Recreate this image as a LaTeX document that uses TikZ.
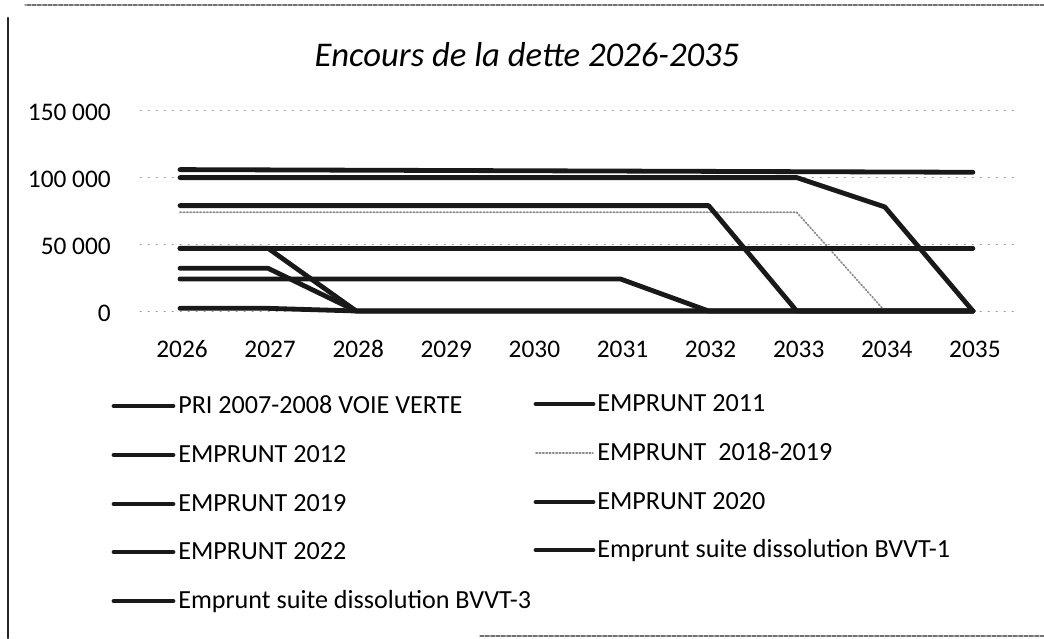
\documentclass[tikz,border=0pt]{standalone}
\usepackage{fontspec}
\setmainfont{Carlito}[Numbers=Lining]
\begin{document}
\begin{tikzpicture}[x=0.75pt, y=-0.75pt, font=\fontsize{19}{21}\selectfont, line join=round, line cap=round]
	\tikzset{
		serie/.style={line width=3.6pt, color=black!90},
		seriedot/.style={line width=1.3pt, color=black!45, dash pattern=on 1pt off 1.5pt},
		grille/.style={line width=0.6pt, color=black!40, dash pattern=on 1pt off 5pt},
		cadre/.style={line width=0.8pt, color=black!55, dash pattern=on 3pt off 1pt},
		etiq/.style={anchor=base west, inner sep=0pt, font=\fontsize{19.6}{22}\selectfont},
	}
	\useasboundingbox (0,0) rectangle (1044,638);
	\def\xo{180};\def\yo{311};\def\dx{88.1};\def\dy{66.7};
	% cadre du graphique
	\draw[cadre] (1044,5) -- (25,5);
	\draw[cadre] (480,636) -- (1044,636);
	\draw[line width=2.2pt, color=black!85] (8,18) -- (8,638);
	% titre
	\node[anchor=base, inner sep=0pt] (titre) at (527,67) {\fontsize{26}{28}\selectfont\itshape Encours de la dette 2026-2035};
	% grille et axe des valeurs
	\foreach \k/\v in {0/0, 1/50 000, 2/100 000, 3/150 000}{
		\draw[grille] (140,{\yo-\k*\dy}) -- (1015,{\yo-\k*\dy});
		\node[anchor=base east, inner sep=0pt] (val\k) at (111,{\yo+10-\k*\dy}) {\v};
	}
	% axe des annees
	\foreach \i in {0,...,9}{
		\pgfmathtruncatemacro{\an}{2026+\i}
		\node[anchor=base, inner sep=0pt] (an\i) at ({\xo+2+\i*\dx},357) {\an};
	}
	% series (valeurs en milliers)
	\begin{scope}[shift={(\xo,\yo)}, x=66.075pt, y=1.0005pt]
		\draw[serie] plot coordinates {(0,2) (1,2) (2,0) (9,0)};
		\draw[serie] plot coordinates {(0,32) (1,32) (2,0) (9,0)};
		\draw[serie] plot coordinates {(0,47) (1,47) (2,0) (9,0)};
		\draw[seriedot] plot coordinates {(0,74) (7,74) (8,0) (9,0)};
		\draw[serie] plot coordinates {(0,24) (5,24) (6,0) (9,0)};
		\draw[serie] plot coordinates {(0,79) (6,79) (7,0) (9,0)};
		\draw[serie] plot coordinates {(0,100) (7,100) (8,78) (9,0)};
		\draw[serie] plot coordinates {(0,106) (9,104)};
		\draw[serie] plot coordinates {(0,47) (9,47)};
	\end{scope}
	% legende
	\foreach \y/\t [count=\n] in {406/PRI 2007-2008 VOIE VERTE, 455/EMPRUNT 2012, 504/EMPRUNT 2019, 552/EMPRUNT 2022, 601/Emprunt suite dissolution BVVT-3}{
		\draw[serie] (114,\y) -- (173,\y);
		\node[etiq] (legg\n) at (178,\y+7) {\t};
	}
	\foreach \y/\t [count=\n] in {404/EMPRUNT 2011, 502/EMPRUNT 2020, 550/Emprunt suite dissolution BVVT-1}{
		\draw[serie] (536,\y) -- (593,\y);
		\node[etiq] (legd\n) at (597,\y+7) {\t};
	}
	\draw[seriedot] (536,453) -- (593,453);
	\node[etiq] (legdot) at (597,460) {EMPRUNT\ \ 2018-2019};
\end{tikzpicture}
\end{document}
